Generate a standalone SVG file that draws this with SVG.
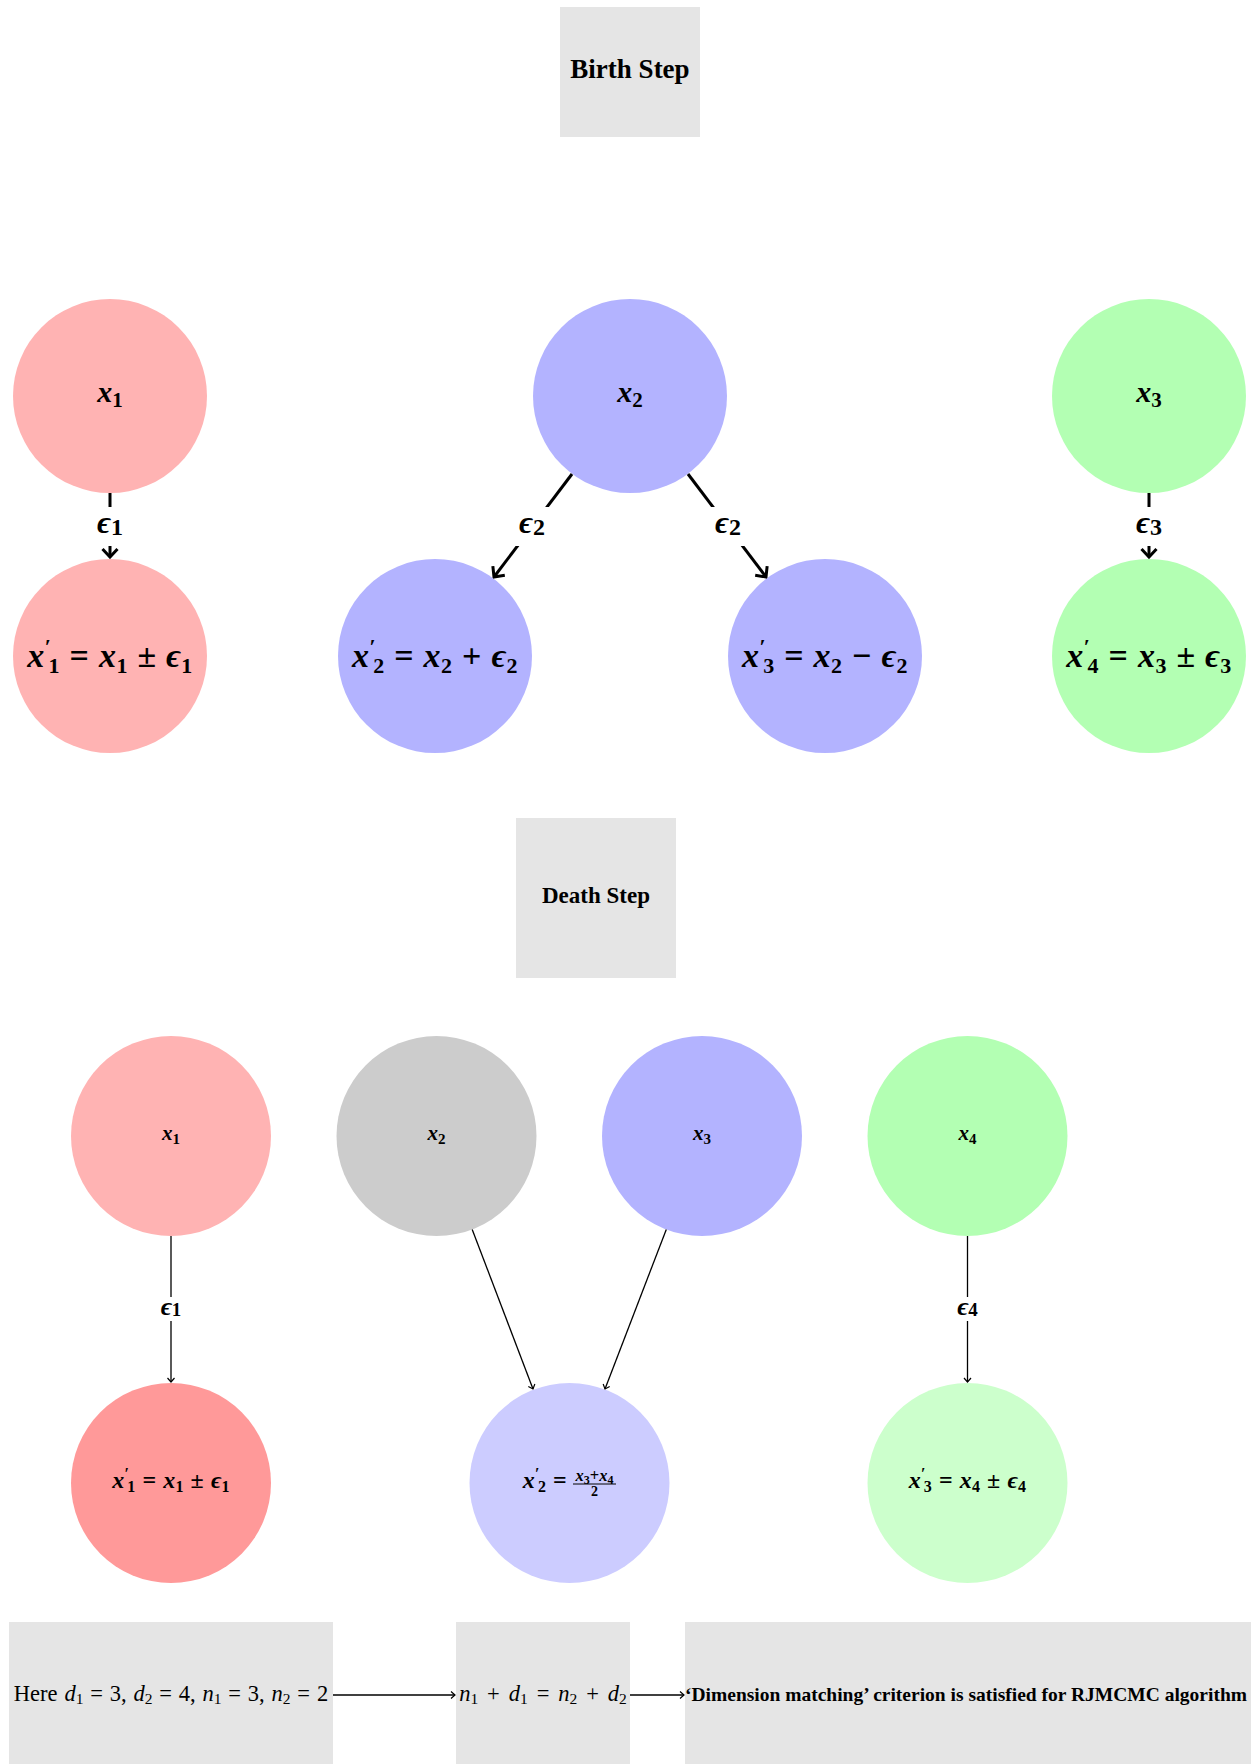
<svg xmlns="http://www.w3.org/2000/svg" width="1251" height="1764" viewBox="0 0 1251 1764">
<defs>
<style>
text { font-family: "Liberation Serif", "DejaVu Serif", serif; fill: #000; }
.title { font-weight: bold; text-anchor: middle; }
.m { font-weight: bold; font-style: italic; text-anchor: middle; }
.n { font-weight: normal; font-style: italic; text-anchor: middle; }
.u { font-style: normal; }
.box { fill: #e5e5e5; }
.thick { stroke: #000; stroke-width: 3; fill: none; }
.thin { stroke: #000; stroke-width: 1.3; fill: none; }
.lbl { fill: #fff; }
</style>
<marker id="ah" markerUnits="userSpaceOnUse" viewBox="-12 -10 14 20" refX="0" refY="0" markerWidth="14" markerHeight="20" orient="auto">
<path d="M-8,-7.5 L0,0 L-8,7.5" fill="none" stroke="#000" stroke-width="3"/>
</marker>
<marker id="as" markerUnits="userSpaceOnUse" viewBox="-6 -5 7 10" refX="0" refY="0" markerWidth="7" markerHeight="10" orient="auto">
<path d="M-4,-3.5 L0,0 L-4,3.5" fill="none" stroke="#000" stroke-width="1.2"/>
</marker>
</defs>
<rect width="1251" height="1764" fill="#fff"/>

<g id="birth-title">
<rect class="box" x="560" y="7" width="140" height="130"/>
<text class="title" x="630" y="78" font-size="27">Birth Step</text>
</g>

<g id="b-x1">
<circle cx="110" cy="396" r="97" fill="#ffb3b3"/>
<text class="m" x="110" y="402" font-size="30">x<tspan class="u" font-size="21" dy="5">1</tspan></text>
</g>
<g id="b-x2">
<circle cx="630" cy="396" r="97" fill="#b3b3ff"/>
<text class="m" x="630" y="402" font-size="30">x<tspan class="u" font-size="21" dy="5">2</tspan></text>
</g>
<g id="b-x3">
<circle cx="1149" cy="396" r="97" fill="#b3ffb3"/>
<text class="m" x="1149" y="402" font-size="30">x<tspan class="u" font-size="21" dy="5">3</tspan></text>
</g>
<g id="b-x1p">
<circle cx="110" cy="656" r="97" fill="#ffb3b3"/>
<text class="m" x="110" y="667" font-size="34" letter-spacing="0.5" word-spacing="0.5">x<tspan class="u" font-size="22" dy="-13">′</tspan><tspan class="u" font-size="22" dx="-3" dy="19">1</tspan><tspan class="u" dy="-6"> = </tspan>x<tspan class="u" font-size="22" dy="6">1</tspan><tspan class="u" dy="-6"> ± </tspan>ϵ<tspan class="u" font-size="22" dy="6">1</tspan></text>
</g>
<g id="b-x2p">
<circle cx="435" cy="656" r="97" fill="#b3b3ff"/>
<text class="m" x="435" y="667" font-size="34" letter-spacing="0.5" word-spacing="0.5">x<tspan class="u" font-size="22" dy="-13">′</tspan><tspan class="u" font-size="22" dx="-3" dy="19">2</tspan><tspan class="u" dy="-6"> = </tspan>x<tspan class="u" font-size="22" dy="6">2</tspan><tspan class="u" dy="-6"> + </tspan>ϵ<tspan class="u" font-size="22" dy="6">2</tspan></text>
</g>
<g id="b-x3p">
<circle cx="825" cy="656" r="97" fill="#b3b3ff"/>
<text class="m" x="825" y="667" font-size="34" letter-spacing="0.5" word-spacing="0.5">x<tspan class="u" font-size="22" dy="-13">′</tspan><tspan class="u" font-size="22" dx="-3" dy="19">3</tspan><tspan class="u" dy="-6"> = </tspan>x<tspan class="u" font-size="22" dy="6">2</tspan><tspan class="u" dy="-6"> − </tspan>ϵ<tspan class="u" font-size="22" dy="6">2</tspan></text>
</g>
<g id="b-x4p">
<circle cx="1149" cy="656" r="97" fill="#b3ffb3"/>
<text class="m" x="1149" y="667" font-size="34" letter-spacing="0.5" word-spacing="0.5">x<tspan class="u" font-size="22" dy="-13">′</tspan><tspan class="u" font-size="22" dx="-3" dy="19">4</tspan><tspan class="u" dy="-6"> = </tspan>x<tspan class="u" font-size="22" dy="6">3</tspan><tspan class="u" dy="-6"> ± </tspan>ϵ<tspan class="u" font-size="22" dy="6">3</tspan></text>
</g>

<g id="death-title">
<rect class="box" x="516" y="818" width="160" height="160"/>
<text class="title" x="596" y="903" font-size="23">Death Step</text>
</g>

<g id="d-x1">
<circle cx="171" cy="1136" r="100" fill="#ffb3b3"/>
<text class="m" x="171" y="1140" font-size="21">x<tspan class="u" font-size="15" dy="4">1</tspan></text>
</g>
<g id="d-x2">
<circle cx="436.5" cy="1136" r="100" fill="#cccccc"/>
<text class="m" x="436.5" y="1140" font-size="21">x<tspan class="u" font-size="15" dy="4">2</tspan></text>
</g>
<g id="d-x3">
<circle cx="702" cy="1136" r="100" fill="#b3b3ff"/>
<text class="m" x="702" y="1140" font-size="21">x<tspan class="u" font-size="15" dy="4">3</tspan></text>
</g>
<g id="d-x4">
<circle cx="967.5" cy="1136" r="100" fill="#b3ffb3"/>
<text class="m" x="967.5" y="1140" font-size="21">x<tspan class="u" font-size="15" dy="4">4</tspan></text>
</g>
<g id="d-x1p">
<circle cx="171" cy="1483" r="100" fill="#ff9999"/>
<text class="m" x="171" y="1488" font-size="24" letter-spacing="0.3" word-spacing="0.5">x<tspan class="u" font-size="16" dy="-9">′</tspan><tspan class="u" font-size="16" dx="-2" dy="13">1</tspan><tspan class="u" dy="-4"> = </tspan>x<tspan class="u" font-size="16" dy="4">1</tspan><tspan class="u" dy="-4"> ± </tspan>ϵ<tspan class="u" font-size="16" dy="4">1</tspan></text>
</g>
<g id="d-x2p">
<circle cx="569.5" cy="1483" r="100" fill="#ccccff"/>
<text class="m" x="567" y="1488" font-size="24" letter-spacing="0.3" word-spacing="0.5" style="text-anchor:end">x<tspan class="u" font-size="16" dy="-9">′</tspan><tspan class="u" font-size="16" dx="-2" dy="13">2</tspan><tspan class="u" dy="-4"> = </tspan></text>
<text class="m" x="594.5" y="1480.5" font-size="16.5">x<tspan class="u" font-size="12" dy="3">3</tspan><tspan class="u" dy="-3">+</tspan>x<tspan class="u" font-size="12" dy="3">4</tspan></text>
<line x1="573" y1="1484" x2="616" y2="1484" stroke="#000" stroke-width="1"/>
<text class="m u" x="594.5" y="1496" font-size="14">2</text>
</g>
<g id="d-x3p">
<circle cx="967.5" cy="1483" r="100" fill="#ccffcc"/>
<text class="m" x="967.5" y="1488" font-size="24" letter-spacing="0.3" word-spacing="0.5">x<tspan class="u" font-size="16" dy="-9">′</tspan><tspan class="u" font-size="16" dx="-2" dy="13">3</tspan><tspan class="u" dy="-4"> = </tspan>x<tspan class="u" font-size="16" dy="4">4</tspan><tspan class="u" dy="-4"> ± </tspan>ϵ<tspan class="u" font-size="16" dy="4">4</tspan></text>
</g>

<g id="box-dims">
<rect class="box" x="9" y="1622" width="324" height="142"/>
<text class="n" x="171" y="1701" font-size="22.5" word-spacing="1.2"><tspan class="u">Here </tspan>d<tspan class="u" font-size="15.5" dy="3">1</tspan><tspan class="u" dy="-3"> = 3, </tspan>d<tspan class="u" font-size="15.5" dy="3">2</tspan><tspan class="u" dy="-3"> = 4, </tspan>n<tspan class="u" font-size="15.5" dy="3">1</tspan><tspan class="u" dy="-3"> = 3, </tspan>n<tspan class="u" font-size="15.5" dy="3">2</tspan><tspan class="u" dy="-3"> = 2</tspan></text>
</g>
<g id="box-eq">
<rect class="box" x="456" y="1622" width="174" height="142"/>
<text class="n" x="543" y="1701" font-size="22.5" word-spacing="3.3">n<tspan class="u" font-size="15.5" dy="3">1</tspan><tspan class="u" dy="-3"> + </tspan>d<tspan class="u" font-size="15.5" dy="3">1</tspan><tspan class="u" dy="-3"> = </tspan>n<tspan class="u" font-size="15.5" dy="3">2</tspan><tspan class="u" dy="-3"> + </tspan>d<tspan class="u" font-size="15.5" dy="3">2</tspan></text>
</g>
<g id="box-result">
<rect class="box" x="685" y="1622" width="566" height="142"/>
<text class="title" x="966" y="1701" font-size="19.5">‘Dimension matching’ criterion is satisfied for RJMCMC algorithm</text>
</g>

<g id="connectors">
<line class="thick" x1="110" y1="493" x2="110" y2="557" marker-end="url(#ah)"/>
<line class="thick" x1="572" y1="474" x2="494" y2="577" marker-end="url(#ah)"/>
<line class="thick" x1="688" y1="474" x2="766" y2="577" marker-end="url(#ah)"/>
<line class="thick" x1="1149" y1="493" x2="1149" y2="557" marker-end="url(#ah)"/>
<rect class="lbl" x="91" y="507" width="38" height="39"/>
<text class="m" x="110" y="533" font-size="32">ϵ<tspan class="u" font-size="24" dy="2">1</tspan></text>
<rect class="lbl" x="513" y="507" width="39" height="39"/>
<text class="m" x="532" y="533" font-size="32">ϵ<tspan class="u" font-size="24" dy="2">2</tspan></text>
<rect class="lbl" x="708" y="507" width="39" height="39"/>
<text class="m" x="728" y="533" font-size="32">ϵ<tspan class="u" font-size="24" dy="2">2</tspan></text>
<rect class="lbl" x="1130" y="507" width="38" height="39"/>
<text class="m" x="1149" y="533" font-size="32">ϵ<tspan class="u" font-size="24" dy="2">3</tspan></text>

<line class="thin" x1="171" y1="1236" x2="171" y2="1382" marker-end="url(#as)"/>
<line class="thin" x1="472.2" y1="1229.4" x2="533" y2="1389" marker-end="url(#as)"/>
<line class="thin" x1="666.3" y1="1229.4" x2="605" y2="1389" marker-end="url(#as)"/>
<line class="thin" x1="967.5" y1="1236" x2="967.5" y2="1382" marker-end="url(#as)"/>
<rect class="lbl" x="155" y="1297" width="32" height="24"/>
<text class="m" x="171" y="1315" font-size="26">ϵ<tspan class="u" font-size="19" dy="1">1</tspan></text>
<rect class="lbl" x="951.5" y="1297" width="32" height="24"/>
<text class="m" x="967.5" y="1315" font-size="26">ϵ<tspan class="u" font-size="19" dy="1">4</tspan></text>

<line class="thin" x1="333" y1="1695" x2="455" y2="1695" marker-end="url(#as)"/>
<line class="thin" x1="630" y1="1695" x2="684" y2="1695" marker-end="url(#as)"/>
</g>
</svg>
